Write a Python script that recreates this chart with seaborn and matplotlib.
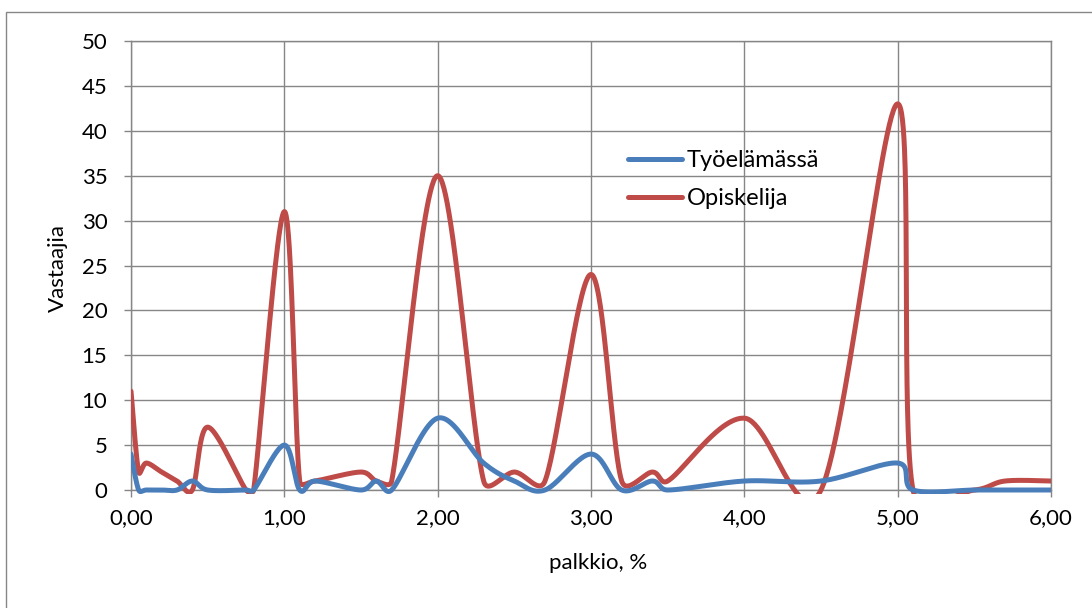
import numpy as np
import matplotlib
matplotlib.use("Agg")
import matplotlib.pyplot as plt
import seaborn as sns
import pandas as pd
from matplotlib.patches import Rectangle
from matplotlib.ticker import FuncFormatter

# ---- data ----
palkkio = [0, 0.05, 0.1, 0.2, 0.3, 0.4, 0.5, 0.75, 0.8,
           1.0, 1.1, 1.2, 1.5, 1.6, 1.7,
           2.0, 2.3, 2.5, 2.7,
           3.0, 3.2, 3.4, 3.5,
           4.0, 4.5,
           5.0, 5.1, 5.5, 5.7, 6.0]
tyoelamassa = [4, 0, 0, 0, 0, 1, 0, 0, 0,
               5, 0, 1, 0, 1, 0,
               8, 3, 1, 0,
               4, 0, 1, 0,
               1, 1,
               3, 0, 0, 0, 0]
opiskelija = [11, 2, 3, 2, 1, 0, 7, 0, 0,
              31, 1, 1, 2, 1, 1,
              35, 1, 2, 1,
              24, 1, 2, 1,
              8, 0,
              43, 0, 0, 1, 1]
series_names = ["Työelämässä", "Opiskelija"]
series_colors = ["#4A7EBB", "#BE4B48"]
x_ticks = [0, 1, 2, 3, 4, 5, 6]
y_ticks = [0, 5, 10, 15, 20, 25, 30, 35, 40, 45, 50]

sns.set_theme(style="white")
plt.rcParams["font.family"] = ["Lato", "DejaVu Sans"]

W, H = 1092, 608
fig = plt.figure(figsize=(W / 100, H / 100), dpi=100)
ax = fig.add_axes([131 / W, (H - 490) / H, 920 / W, 449 / H])
ax.set_xlim(0, 6)
ax.set_ylim(0, 50)


def excel_smooth(ax, xs, ys, n=60):
    """Excel-style smoothed line: cubic Bezier through the points,
    built in display space with control arms limited to half a segment."""
    pts = ax.transData.transform(np.column_stack([xs, ys]))
    N = len(pts)
    out = [pts[0]]
    t = np.linspace(0, 1, n)[1:]
    for i in range(N - 1):
        p0 = pts[i - 1] if i > 0 else pts[i]
        p1 = pts[i]
        p2 = pts[i + 1]
        p3 = pts[i + 2] if i + 2 < N else pts[i + 1]
        d02 = np.hypot(*(p2 - p0))
        d12 = np.hypot(*(p2 - p1))
        d13 = np.hypot(*(p3 - p1))
        f1 = 1 / 6 if d02 / 6 < d12 / 2 else (d12 / d02 / 2 if d02 > 0 else 0)
        f2 = 1 / 6 if d13 / 6 < d12 / 2 else (d12 / d13 / 2 if d13 > 0 else 0)
        b1 = p1 + (p2 - p0) * f1
        b2 = p2 - (p3 - p1) * f2
        seg = (((1 - t) ** 3)[:, None] * p1 + (3 * (1 - t) ** 2 * t)[:, None] * b1
               + (3 * (1 - t) * t ** 2)[:, None] * b2 + (t ** 3)[:, None] * p2)
        out.extend(seg)
    out = np.array(out)
    return ax.transData.inverted().transform(out)


clip_rect = Rectangle((0, -0.008), 1, 1.016, transform=ax.transAxes)
order = [1, 0]  # draw red first, blue on top
values = [tyoelamassa, opiskelija]
for k in order:
    curve = excel_smooth(ax, palkkio, values[k])
    df = pd.DataFrame({"x": curve[:, 0], "y": curve[:, 1]})
    sns.lineplot(data=df, x="x", y="y", sort=False, estimator=None,
                 color=series_colors[k], linewidth=3.6, ax=ax,
                 label=series_names[k], zorder=3 + (1 if k == 0 else 0))
for ln in ax.get_lines():
    ln.set_clip_path(clip_rect)
    ln.set_solid_capstyle("round")

ax.set_xlim(0, 6)
ax.set_ylim(0, 50)
ax.set_xticks(x_ticks)
ax.set_yticks(y_ticks)
ax.xaxis.set_major_formatter(FuncFormatter(lambda v, p: f"{v:.2f}".replace(".", ",")))
ax.yaxis.set_major_formatter(FuncFormatter(lambda v, p: f"{int(v)}"))

grid_c = "#868686"
ax.grid(True, color=grid_c, linewidth=1.0)
ax.set_axisbelow(True)
for s in ax.spines.values():
    s.set_color(grid_c)
    s.set_linewidth(1.0)
ax.tick_params(axis="both", direction="out", length=5, width=1.0, color=grid_c,
               labelsize=16, labelcolor="black")
ax.tick_params(axis="y", pad=12)
ax.tick_params(axis="x", pad=8)
ax.tick_params(left=True, bottom=True)

ax.set_xlabel("palkkio, %", fontsize=16, color="black")
ax.set_ylabel("Vastaajia", fontsize=16, color="black")
ax.xaxis.set_label_coords((598 - 131) / 920, (490 - 563) / 449)
ax.xaxis.label.set_va("center")
ax.yaxis.set_label_coords((58 - 131) / 920, (490 - 268) / 449)
ax.yaxis.label.set_va("center")

handles, labels = ax.get_legend_handles_labels()
hmap = dict(zip(labels, handles))
leg = ax.legend([hmap[n] for n in series_names], series_names,
                loc="upper left", bbox_to_anchor=((628 - 131) / 920, (490 - 150) / 449),
                frameon=False, fontsize=17, borderpad=0, borderaxespad=0,
                handlelength=2.3, handletextpad=0.2, labelspacing=0.72)
for t in leg.get_texts():
    t.set_color("black")

# outer chart-area border (left and top visible)
fig.patches.append(Rectangle((6 / W, -0.05), 1.2, (H - 12) / H + 0.05,
                             transform=fig.transFigure, fill=False,
                             edgecolor=grid_c, linewidth=1.0))

fig.savefig("out.png", dpi=100)
